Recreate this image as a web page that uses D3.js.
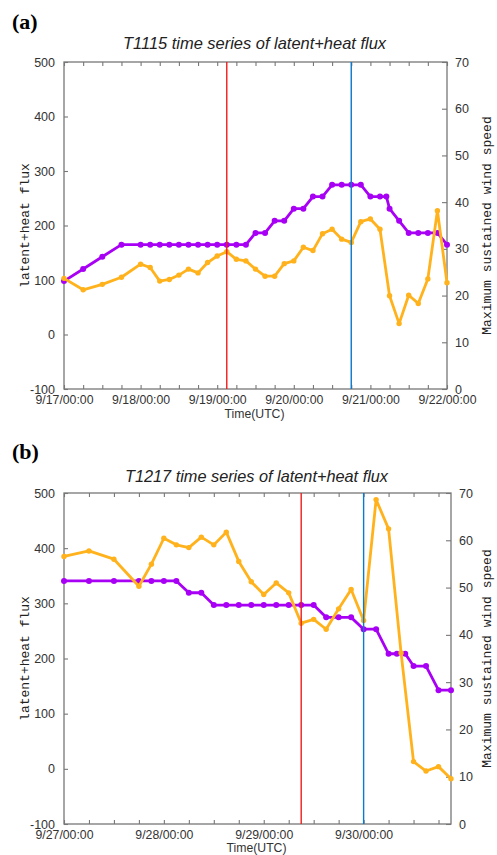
<!DOCTYPE html>
<html><head><meta charset="utf-8">
<script src="https://cdn.jsdelivr.net/npm/d3@7/dist/d3.min.js"></script>
<style>body{margin:0;background:#fff} svg{display:block}</style>
</head><body>
<svg id="c" width="497" height="855"></svg>
<script>
// ---------- Panel (a) T1115 ----------
const aTitle = "T1115 time series of latent+heat flux";
const aFluxHours = [0,6,12,18,24,27,30,33,36,39,42,45,48,51,54,57,60,63,66,69,72,75,78,81,84,87,90,93,96,99,102,105,108,111,114,117,120];
const aFluxValues = [103,82,92,105,129,123,98,101,109,120,113,132,144,152,138,135,120,107,107,130,135,160,154,185,193,175,169,207,212,193,71,20,72,57,102,227,95];
const aWindHours = [0,6,12,18,24,27,30,33,36,39,42,45,48,51,54,57,60,63,66,69,72,75,78,81,84,87,90,93,96,99,101,102,105,108,111,114,117,120];
const aWindValues = [23.1,25.7,28.3,30.9,30.9,30.9,30.9,30.9,30.9,30.9,30.9,30.9,30.9,30.9,30.9,30.9,33.4,33.4,36.0,36.0,38.6,38.6,41.2,41.2,43.7,43.7,43.7,43.7,41.2,41.2,41.2,38.6,36.0,33.4,33.4,33.4,33.4,30.9];
const aTickLabels = ["9/17/00:00","9/18/00:00","9/19/00:00","9/20/00:00","9/21/00:00","9/22/00:00"];
const aHourDomain = [0,120];
const aRedHour = 51, aBlueHour = 90;

// ---------- Panel (b) T1217 ----------
const bTitle = "T1217 time series of latent+heat flux";
const bFluxHours = [0,6,12,18,21,24,27,30,33,36,39,42,45,48,51,54,57,60,63,66,69,72,75,78,81,84,87,90,93];
const bFluxValues = [385,395,380,331,371,418,406,401,420,406,429,376,339,316,337,319,264,271,253,290,325,269,488,435,210,13,-4,4,-18];
const bWindHours = [0,6,12,18,21,24,27,30,33,36,39,42,45,48,51,54,57,60,63,66,69,72,75,78,80,82,84,87,90,93];
const bWindValues = [51.4,51.4,51.4,51.4,51.4,51.4,51.4,48.9,48.9,46.3,46.3,46.3,46.3,46.3,46.3,46.3,46.3,46.3,43.7,43.7,43.7,41.2,41.2,36.0,36.0,36.0,33.4,33.4,28.3,28.3];
const bTickLabels = ["9/27/00:00","9/28/00:00","9/29/00:00","9/30/00:00"];
const bHourDomain = [0,93];
const bRedHour = 57, bBlueHour = 72;

// ---------- shared axis ticks ----------
const fluxTicks = [-100,0,100,200,300,400,500];
const windTicks = [0,10,20,30,40,50,60,70];
const yLeftTitle = "latent+heat flux";
const yRightTitle = "Maximum sustained wind speed";
const xTitle = "Time(UTC)";

const C_FLUX = "#ffb21c", C_WIND = "#a800f5", C_RED = "#ee1c1c", C_BLUE = "#0a78cc";
const AXIS_C = "#777";
const SANS = "'Liberation Sans', Arial, sans-serif";
const svg = d3.select("#c");

function panel(o) {
  const g = svg.append("g");
  const x = d3.scaleLinear().domain(o.hourDomain).range([o.left, o.right]);
  const yL = d3.scaleLinear().domain([-100,500]).range([o.bottom, o.top]);
  const yR = d3.scaleLinear().domain([0,70]).range([o.bottom, o.top]);
  const hourTicks = d3.range(o.hourDomain[0], o.hourDomain[1]+0.01, 6);

  g.append("rect").attr("x", o.left).attr("y", o.top)
    .attr("width", o.right-o.left).attr("height", o.bottom-o.top)
    .attr("fill","none").attr("stroke",AXIS_C).attr("stroke-width",1.3);

  const style = sel => {
    sel.select(".domain").remove();
    sel.selectAll(".tick line").attr("stroke",AXIS_C).attr("stroke-width",1.1);
    sel.selectAll(".tick text").attr("fill","#333")
      .style("font-family",SANS).style("font-size","12.5px");
  };

  g.append("g").attr("transform",`translate(0,${o.bottom})`)
    .call(d3.axisBottom(x).tickValues(hourTicks).tickSize(-4).tickPadding(5)
      .tickFormat(h => h % 24 === 0 ? o.labels[h/24] : ""))
    .call(style)
    .call(s => s.selectAll(".tick text").filter(function(){return this.textContent!=="";})
      .style("font-size","13.5px").attr("textLength",58).attr("lengthAdjust","spacingAndGlyphs"));
  g.append("g").attr("transform",`translate(0,${o.top})`)
    .call(d3.axisTop(x).tickValues(hourTicks).tickSize(-4).tickFormat(""))
    .call(style);
  g.append("g").attr("transform",`translate(${o.left},0)`)
    .call(d3.axisLeft(yL).tickValues(fluxTicks).tickSize(-4).tickPadding(9).tickFormat(d => String(d)))
    .call(style);
  g.append("g").attr("transform",`translate(${o.right},0)`)
    .call(d3.axisRight(yR).tickValues(windTicks).tickSize(-5).tickPadding(8).tickFormat(d => String(d)))
    .call(style);

  const clip = "clip" + o.id;
  g.append("clipPath").attr("id",clip).append("rect")
    .attr("x",o.left-4).attr("y",o.top).attr("width",o.right-o.left+8).attr("height",o.bottom-o.top);
  const data = g.append("g").attr("clip-path",`url(#${clip})`);

  const windPts = o.windHours.map((h,i)=>[x(h), yR(o.windValues[i])]);
  const fluxPts = o.fluxHours.map((h,i)=>[x(h), yL(o.fluxValues[i])]);
  const line = d3.line();
  data.append("path").attr("d",line(windPts)).attr("fill","none")
    .attr("stroke",C_WIND).attr("stroke-width",2.8).attr("stroke-linejoin","round");
  data.selectAll(null).data(windPts).enter().append("circle")
    .attr("cx",d=>d[0]).attr("cy",d=>d[1]).attr("r",3).attr("fill",C_WIND);
  data.append("path").attr("d",line(fluxPts)).attr("fill","none")
    .attr("stroke",C_FLUX).attr("stroke-width",2.8).attr("stroke-linejoin","round");
  data.selectAll(null).data(fluxPts).enter().append("circle")
    .attr("cx",d=>d[0]).attr("cy",d=>d[1]).attr("r",2.7).attr("fill",C_FLUX);

  [[o.red,C_RED],[o.blue,C_BLUE]].forEach(([h,c])=>{
    g.append("line").attr("x1",x(h)).attr("x2",x(h)).attr("y1",o.top).attr("y2",o.bottom)
      .attr("stroke",c).attr("stroke-width",1.4);
  });

  g.append("text").attr("x",(o.left+o.right)/2 - 1).attr("y",o.titleY).attr("text-anchor","middle")
    .style("font-family",SANS).style("font-size","17px")
    .attr("textLength",263).attr("lengthAdjust","spacingAndGlyphs")
    .style("font-style","italic").attr("fill","#222").text(o.title);
  g.append("text").attr("x",12).attr("y",o.tagY)
    .style("font-family","'Liberation Serif', 'Times New Roman', serif").style("font-size","22px")
    .style("font-weight","bold").attr("fill","#000").text(o.tag);
  g.append("text").attr("x",(o.left+o.right)/2 - 1).attr("y",o.xTitleY).attr("text-anchor","middle")
    .style("font-family",SANS).style("font-size","13.5px")
    .attr("textLength",60).attr("lengthAdjust","spacingAndGlyphs")
    .attr("fill","#333").text(xTitle);
  const midY = (o.top+o.bottom)/2;
  g.append("text").attr("transform",`translate(29,${midY}) rotate(-90)`).attr("text-anchor","middle")
    .style("font-family","'Liberation Mono', 'DejaVu Sans Mono', monospace").style("font-size","13px")
    .attr("fill","#222").text(yLeftTitle);
  g.append("text").attr("transform",`translate(491,${midY}) rotate(-90)`).attr("text-anchor","middle")
    .style("font-family","'Liberation Mono', 'DejaVu Sans Mono', monospace").style("font-size","13px")
    .attr("fill","#222").text(yRightTitle);
}

panel({id:"a", left:64, right:447, top:62, bottom:389, hourDomain:aHourDomain, labels:aTickLabels,
  fluxHours:aFluxHours, fluxValues:aFluxValues, windHours:aWindHours, windValues:aWindValues,
  red:aRedHour, blue:aBlueHour, title:aTitle, titleY:49, tag:"(a)", tagY:29, xTitleY:418});
panel({id:"b", left:64, right:451, top:493, bottom:824, hourDomain:bHourDomain, labels:bTickLabels,
  fluxHours:bFluxHours, fluxValues:bFluxValues, windHours:bWindHours, windValues:bWindValues,
  red:bRedHour, blue:bBlueHour, title:bTitle, titleY:482, tag:"(b)", tagY:459, xTitleY:852});
</script>
</body></html>
